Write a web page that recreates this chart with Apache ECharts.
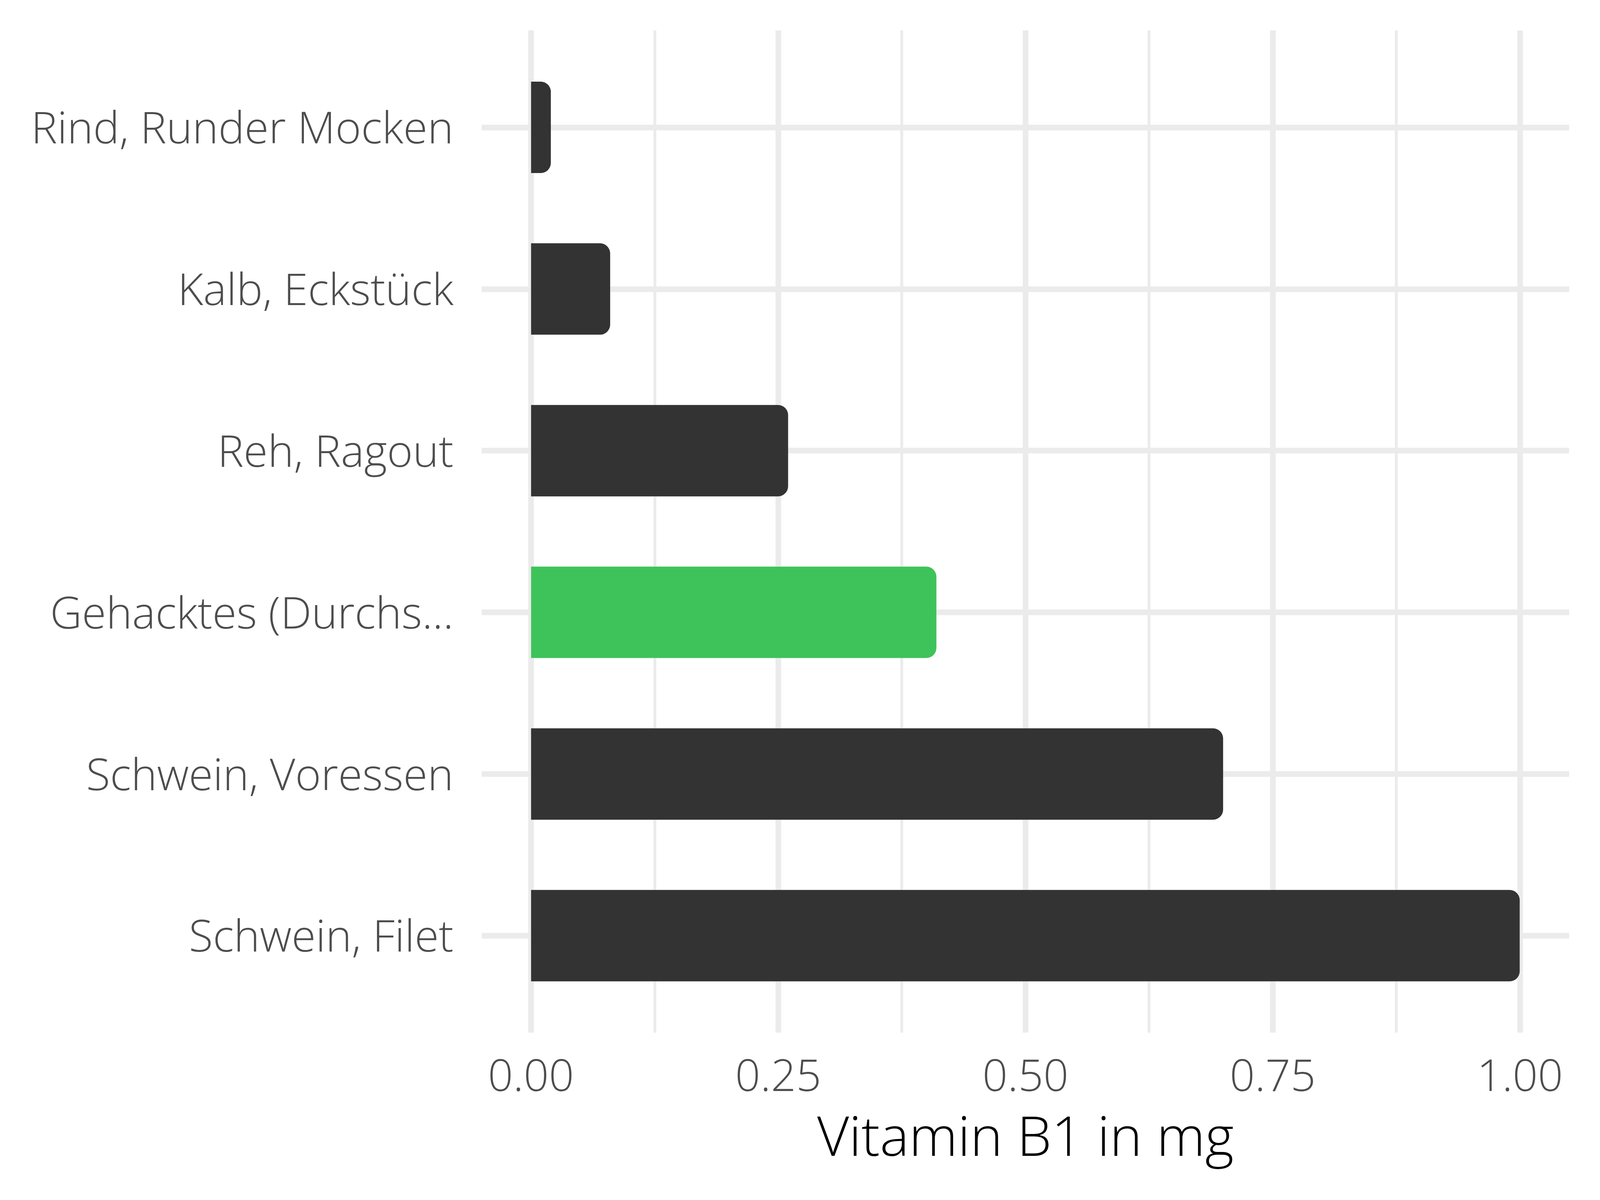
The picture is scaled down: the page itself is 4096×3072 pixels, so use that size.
<!DOCTYPE html>
<html>
<head>
<meta charset="utf-8">
<script src="https://cdn.jsdelivr.net/npm/echarts@6/dist/echarts.min.js"></script>
<style>
html,body{margin:0;padding:0;background:#fff;}
#chart{width:4096px;height:3072px;}
</style>
</head>
<body>
<div id="chart"></div>
<script>
// ---- data ----
const categories = ['Rind, Runder Mocken', 'Kalb, Eckstück', 'Reh, Ragout', 'Gehacktes (Durchs...', 'Schwein, Voressen', 'Schwein, Filet'];
const values = [0.02, 0.08, 0.26, 0.41, 0.70, 1.00];
const highlighted = ['Gehacktes (Durchs...'];
const xTickValues = [0, 0.25, 0.5, 0.75, 1.0];
const xTitle = 'Vitamin B1 in mg';

// ---- styling ----
const FONT = '"Open Sans", "Noto Sans", sans-serif';
const GRID_COLOR = '#EBEBEB';
const DARK = '#333333';
const GREEN = '#3EC35A';

const chart = echarts.init(document.getElementById('chart'), null, {renderer: 'canvas'});

const option = {
  animation: false,
  backgroundColor: '#ffffff',
  grid: [
    // grid 0: bars, y labels, horizontal grid lines (category centres at the edges)
    {left: 1233, right: 79, top: 326, bottom: 676.7, containLabel: false},
    // grid 1: vertical grid lines and x labels (panel full height, 0..1 span)
    {left: 1359.3, right: 204.9, top: 77.7, bottom: 428.4, containLabel: false}
  ],
  xAxis: [
    {
      gridIndex: 0, type: 'value', min: -0.05, max: 1.05,
      axisLine: {show: false}, axisTick: {show: false},
      axisLabel: {show: false}, splitLine: {show: false}
    },
    {
      gridIndex: 1, type: 'value', min: 0, max: 1, interval: 0.25,
      axisLine: {show: false}, axisTick: {show: false},
      minorTick: {show: false, splitNumber: 2},
      splitLine: {show: true, lineStyle: {color: GRID_COLOR, width: 14.5}},
      minorSplitLine: {show: true, lineStyle: {color: GRID_COLOR, width: 7.3}},
      axisLabel: {
        show: true, margin: 61,
        fontFamily: FONT, fontWeight: 300, fontSize: 113, color: '#4D4D4D',
        formatter: function (v) {
          const i = xTickValues.findIndex(t => Math.abs(t - v) < 1e-9);
          return i >= 0 ? xTickValues[i].toFixed(2) : '';
        }
      },
      name: xTitle, nameLocation: 'middle', nameGap: 205,
      nameTextStyle: {fontFamily: FONT, fontWeight: 300, fontSize: 141, color: '#000000', verticalAlign: 'top'}
    }
  ],
  yAxis: [
    {
      gridIndex: 0, type: 'category', data: categories, inverse: true, boundaryGap: false,
      axisLine: {show: false}, axisTick: {show: false},
      splitLine: {show: true, lineStyle: {color: GRID_COLOR, width: 14.5}},
      axisLabel: {
        show: true, margin: 72, interval: 0,
        formatter: function (v) { return '{lab|' + v + '}'; },
        rich: {
          lab: {
            fontFamily: FONT, fontWeight: 300, fontSize: 112.7, color: '#4D4D4D',
            padding: [18, 0, 0, 0]
          }
        }
      }
    },
    {
      gridIndex: 1, type: 'value', min: 0, max: 1, show: false,
      splitLine: {show: false}
    }
  ],
  series: [
    {
      // white halo under each bar
      type: 'bar', xAxisIndex: 0, yAxisIndex: 0, data: values,
      barWidth: 234, barGap: '-100%', clip: false, silent: true,
      itemStyle: {color: '#ffffff', borderColor: '#ffffff', borderWidth: 29, borderRadius: [0, 26, 26, 0]},
      z: 2
    },
    {
      type: 'bar', xAxisIndex: 0, yAxisIndex: 0, data: values,
      barWidth: 234, barGap: '-100%', clip: false,
      itemStyle: {
        borderRadius: [0, 26, 26, 0],
        color: function (p) { return highlighted.indexOf(categories[p.dataIndex]) >= 0 ? GREEN : DARK; }
      },
      z: 3
    }
  ]
};
chart.setOption(option);
</script>
</body>
</html>
